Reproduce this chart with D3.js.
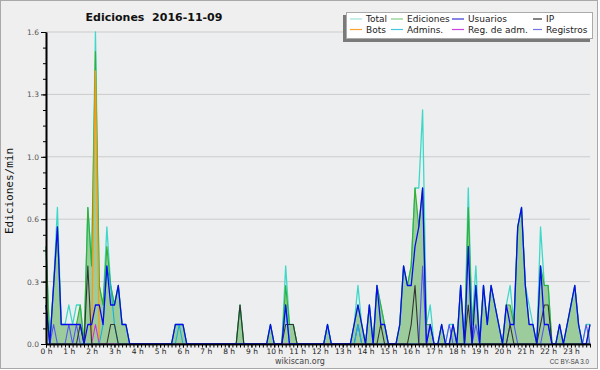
<!DOCTYPE html>
<html>
<head>
<meta charset="utf-8">
<script src="https://cdn.jsdelivr.net/npm/d3@7"></script>
<style>
html, body { margin: 0; padding: 0; background: #fff; }
svg { display: block; }
text { font-family: "DejaVu Sans", sans-serif; }
</style>
</head>
<body>
<svg id="chart" width="600" height="370"></svg>
<script>
// edits per minute, one value per 10 minute slot (144 slots, 6 per hour)
var total = [
  0.5,0,0.3,0.7,0.1,0.1,0.2,0.1,0.2,0.2,0,0.7,0.4,1.6,0.3,0.2,0.6,0.3,0.2,0.3,0.1,0.1,0,0,
  0,0,0,0,0,0,0,0,0,0,0.1,0.1,0.1,0,0,0,0,0,0,0,0,0,0,0,
  0,0,0,0.2,0,0,0,0,0,0,0,0.1,0,0,0,0.4,0.1,0.1,0,0,0,0,0,0,
  0,0,0.1,0,0,0,0,0,0,0.1,0.3,0.1,0,0.2,0,0.3,0.2,0.1,0,0,0,0.1,0.4,0.3,
  0.4,0.8,0.8,1.2,0.1,0.2,0,0,0.1,0,0.1,0.1,0,0.3,0,0.8,0.1,0.4,0,0.3,0.1,0.3,0.2,0.1,
  0,0.2,0.3,0.1,0.6,0.7,0.3,0.2,0.1,0,0.6,0.3,0.3,0,0,0.1,0,0.1,0.2,0.3,0.1,0,0.1,0.1
];
var edits = [
  0.5,0,0.3,0.6,0.1,0.1,0.1,0.1,0.1,0.2,0,0.7,0.4,1.5,0.3,0.2,0.5,0.3,0.2,0.3,0.1,0.1,0,0,
  0,0,0,0,0,0,0,0,0,0,0.1,0.1,0.1,0,0,0,0,0,0,0,0,0,0,0,
  0,0,0,0.2,0,0,0,0,0,0,0,0.1,0,0,0,0.3,0.1,0.1,0,0,0,0,0,0,
  0,0,0.1,0,0,0,0,0,0,0.1,0.2,0.1,0,0.2,0,0.3,0.2,0.1,0,0,0,0.1,0.4,0.3,
  0.4,0.8,0.6,0.8,0.1,0.1,0,0,0.1,0,0,0.1,0,0.3,0,0.7,0.1,0.3,0,0.3,0.1,0.3,0.2,0.1,
  0,0.2,0.2,0.1,0.6,0.7,0.3,0.1,0.1,0,0.4,0.3,0.3,0,0,0.1,0,0.1,0.2,0.3,0.1,0,0,0.1
];
var users = [
  0.2,0,0.3,0.6,0.1,0.1,0.1,0.1,0.1,0.1,0,0.1,0.1,0.2,0.2,0.1,0.4,0.2,0.2,0.3,0.1,0.1,0,0,
  0,0,0,0,0,0,0,0,0,0,0.1,0.1,0.1,0,0,0,0,0,0,0,0,0,0,0,
  0,0,0,0,0,0,0,0,0,0,0,0.1,0,0,0,0.2,0,0,0,0,0,0,0,0,
  0,0,0.1,0,0,0,0,0,0,0.1,0.2,0.1,0,0.2,0,0.3,0.1,0.1,0,0,0,0.1,0.4,0.3,
  0.3,0.5,0.6,0.8,0,0.1,0,0,0.1,0,0,0.1,0,0.3,0,0.5,0,0.3,0,0.3,0.1,0.3,0.2,0.1,
  0,0.2,0.1,0.1,0.6,0.7,0.3,0.1,0.1,0,0.4,0.1,0.1,0,0,0.1,0,0.1,0.2,0.3,0.1,0,0,0.1
];
var ip = [
  0.2,0,0,0,0,0,0,0,0,0.1,0,0.4,0,0,0,0,0,0.1,0.1,0,0,0,0,0,
  0,0,0,0,0,0,0,0,0,0,0,0,0,0,0,0,0,0,0,0,0,0,0,0,
  0,0,0,0.2,0,0,0,0,0,0,0,0,0,0,0,0.1,0.1,0.1,0,0,0,0,0,0,
  0,0,0,0,0,0,0,0,0,0,0,0,0,0,0,0,0.1,0,0,0,0,0,0,0,
  0.1,0.3,0,0,0,0,0,0,0,0,0,0,0,0,0,0.2,0,0,0,0,0,0,0,0,
  0,0,0.1,0,0,0,0,0,0,0,0.1,0.2,0.2,0,0,0,0,0,0,0,0,0,0,0
];
var bots = [
  0,0,0,0,0,0,0,0,0,0,0,0,0,1.4,0,0,0,0,0,0,0,0,0,0,
  0,0,0,0,0,0,0,0,0,0,0,0,0,0,0,0,0,0,0,0,0,0,0,0,
  0,0,0,0,0,0,0,0,0,0,0,0,0,0,0,0,0,0,0,0,0,0,0,0,
  0,0,0,0,0,0,0,0,0,0,0,0,0,0,0,0,0,0,0,0,0,0,0,0,
  0,0,0,0,0,0,0,0,0,0,0,0,0,0,0,0,0,0,0,0,0,0,0,0,
  0,0,0,0,0,0,0,0,0,0,0,0,0,0,0,0,0,0,0,0,0,0,0,0
];
var admins = [
  0,0,0,0,0,0,0,0,0,0,0,0,0,0,0,0.1,0.4,0.3,0.1,0,0,0,0,0,
  0,0,0,0,0,0,0,0,0,0,0,0.1,0,0,0,0,0,0,0,0,0,0,0,0,
  0,0,0,0,0,0,0,0,0,0,0,0,0,0,0,0.2,0,0,0,0,0,0,0,0,
  0,0,0.1,0,0,0,0,0,0,0,0.1,0,0,0,0,0,0,0,0,0,0,0,0,0,
  0,0,0,0,0,0,0,0,0,0,0,0,0,0,0,0,0,0,0,0,0,0,0,0,
  0,0,0,0,0,0,0,0,0,0,0,0,0,0,0,0,0,0,0,0,0,0,0,0
];
var regAdm = [
  0,0,0,0,0,0,0,0,0,0,0,0,0,0.1,0,0,0,0,0,0,0,0,0,0,
  0,0,0,0,0,0,0,0,0,0,0,0,0,0,0,0,0,0,0,0,0,0,0,0,
  0,0,0,0,0,0,0,0,0,0,0,0,0,0,0,0,0,0,0,0,0,0,0,0,
  0,0,0,0,0,0,0,0,0,0,0,0,0,0,0,0,0,0,0,0,0,0,0,0,
  0,0,0,0,0,0,0,0,0,0,0,0,0,0,0,0,0,0,0,0,0,0,0,0,
  0,0,0,0,0,0,0,0,0,0,0,0,0,0,0,0,0,0,0,0,0,0,0,0
];
var registros = [
  0,0,0.1,0,0,0,0.1,0,0.1,0,0,0,0,0,0,0,0,0,0,0,0,0,0,0,
  0,0,0,0,0,0,0,0,0,0,0,0,0,0,0,0,0,0,0,0,0,0,0,0,
  0,0,0,0,0,0,0,0,0,0,0,0,0,0,0,0,0,0,0,0,0,0,0,0,
  0,0,0,0,0,0,0,0,0,0,0.1,0,0,0,0,0,0,0,0,0,0,0,0,0,
  0,0,0,0.4,0,0.1,0,0,0,0,0.1,0,0,0,0,0,0,0.1,0,0,0,0,0,0,
  0,0,0.1,0.1,0,0,0,0,0,0,0,0.1,0.1,0,0,0,0,0,0,0,0,0,0.1,0
];

var yMajor = [0, 0.32, 0.64, 0.96, 1.28, 1.6];
var hourLabels = d3.range(0, 24).map(function (h) { return h + " h"; });

var legendItems = [
  { name: "Total", color: "#9fe3dc" },
  { name: "Ediciones", color: "#86cc86" },
  { name: "Usuarios", color: "#3434d6" },
  { name: "IP", color: "#333333" },
  { name: "Bots", color: "#ffa030" },
  { name: "Admins.", color: "#44c6dc" },
  { name: "Reg. de adm.", color: "#cc44dd" },
  { name: "Registros", color: "#7676e0" }
];

//-----------------------------------------------------------------------

var svg = d3.select("#chart");

var plotLeft = 46, plotRight = 590, plotTop = 32, plotBottom = 344;

var x = d3.scaleLinear().domain([0, 143]).range([plotLeft, plotRight]);
var y = d3.scaleLinear().domain([0, 1.6]).range([plotBottom, plotTop]);

// frame
svg.append("rect")
  .attr("x", 0.5).attr("y", 0.5)
  .attr("width", 597).attr("height", 368)
  .attr("fill", "#efefef")
  .attr("stroke", "#a9a9a9");

svg.append("rect")
  .attr("x", plotLeft).attr("y", plotTop)
  .attr("width", plotRight - plotLeft).attr("height", plotBottom - plotTop)
  .attr("fill", "#edeef0");

// grid lines
svg.append("g").selectAll("line")
  .data(yMajor.slice(1))
  .enter().append("line")
  .attr("x1", plotLeft).attr("x2", plotRight)
  .attr("y1", function (d) { return y(d); })
  .attr("y2", function (d) { return y(d); })
  .attr("stroke", "#cbcbcb")
  .attr("stroke-width", 1);

// ediciones area
var idx = d3.range(0, 144);

var area = d3.area()
  .x(function (i) { return x(i); })
  .y0(y(0))
  .y1(function (i) { return y(edits[i]); });

svg.append("path")
  .datum(idx)
  .attr("d", area)
  .attr("fill", "#9ccc9c");

function drawLine(values, color, width)
{
  var line = d3.line()
    .x(function (i) { return x(i); })
    .y(function (i) { return y(values[i]); });

  svg.append("path")
    .datum(idx)
    .attr("d", line)
    .attr("fill", "none")
    .attr("stroke", color)
    .attr("stroke-width", width)
    .attr("stroke-linejoin", "round");
}

drawLine(total, "#3ed8c8", 1.3);
drawLine(edits, "#35b035", 1.2);
drawLine(bots, "#ff9a10", 1.3);
drawLine(regAdm, "#cc33dd", 1.1);
drawLine(registros, "#5656f2", 1.1);
drawLine(admins, "#12b0e0", 1.1);
drawLine(ip, "#333333", 1.1);
drawLine(users, "#0a0af0", 1.3);

//-----------------------------------------------------------------------
// axes

var yAxis = d3.axisLeft(y)
  .tickValues(yMajor)
  .tickFormat(d3.format(".1f"))
  .tickSize(5)
  .tickSizeOuter(0)
  .tickPadding(2);

var yMinor = d3.axisLeft(y)
  .tickValues(d3.range(0, 21).map(function (k) { return k * 0.08; }))
  .tickFormat("")
  .tickSize(3)
  .tickSizeOuter(0);

var gy2 = svg.append("g").attr("transform", "translate(" + plotLeft + ",0)").call(yMinor);
var gy = svg.append("g").attr("transform", "translate(" + plotLeft + ",0)").call(yAxis);

var xMinor = d3.axisBottom(x)
  .tickValues(idx)
  .tickFormat("")
  .tickSize(3.5)
  .tickSizeOuter(0);

var xAxis = d3.axisBottom(x)
  .tickValues(d3.range(0, 144, 6))
  .tickFormat(function (d) { return hourLabels[d / 6]; })
  .tickSize(3.5)
  .tickSizeOuter(0)
  .tickPadding(1);

var gx2 = svg.append("g").attr("transform", "translate(0," + plotBottom + ")").call(xMinor);
var gx = svg.append("g").attr("transform", "translate(0," + plotBottom + ")").call(xAxis);

[gy, gy2, gx, gx2].forEach(function (g) {
  g.select(".domain").attr("stroke", "#000").attr("stroke-width", 1.6);
  g.selectAll(".tick line").attr("stroke", "#000").attr("stroke-width", 1);
});

gy.selectAll(".tick text")
  .attr("font-family", "DejaVu Sans")
  .attr("font-size", 7.5)
  .attr("fill", "#555");

gx.selectAll(".tick text")
  .attr("font-family", "DejaVu Sans")
  .attr("font-size", 7.5)
  .attr("fill", "#222");

// y axis title
svg.append("text")
  .attr("transform", "translate(13,191) rotate(-90)")
  .attr("text-anchor", "middle")
  .style("font-family", "'DejaVu Sans Mono', monospace")
  .attr("font-size", 11)
  .attr("fill", "#111")
  .text("Ediciones/min");

// title
svg.append("text")
  .attr("x", 154).attr("y", 21)
  .attr("text-anchor", "middle")
  .attr("font-size", 11)
  .attr("font-weight", "bold")
  .attr("fill", "#111")
  .style("white-space", "pre")
  .text("Ediciones  2016-11-09");

// footer
svg.append("text")
  .attr("x", 300).attr("y", 364)
  .attr("text-anchor", "middle")
  .attr("font-size", 8)
  .attr("fill", "#444")
  .text("wikiscan.org");

svg.append("text")
  .attr("x", 589).attr("y", 364)
  .attr("text-anchor", "end")
  .style("font-family", "'Liberation Sans', sans-serif")
  .attr("font-size", 6.3)
  .attr("fill", "#444")
  .text("CC BY-SA 3.0");

//-----------------------------------------------------------------------
// legend

svg.append("rect")
  .attr("x", 343).attr("y", 15)
  .attr("width", 247).attr("height", 27)
  .attr("fill", "#7a7a7a");

svg.append("rect")
  .attr("x", 346.5).attr("y", 12.5)
  .attr("width", 246).attr("height", 26)
  .attr("fill", "#fff")
  .attr("stroke", "#aaa");

var colX = [350, 391, 452, 533];
var colLen = [12, 12, 12, 9];
var rowY = [19, 29.5];

var leg = svg.append("g").selectAll("g")
  .data(legendItems)
  .enter().append("g")
  .attr("transform", function (d, i) {
    return "translate(" + colX[i % 4] + "," + rowY[Math.floor(i / 4)] + ")";
  });

leg.append("line")
  .attr("x1", 0)
  .attr("x2", function (d, i) { return colLen[i % 4]; })
  .attr("y1", 0).attr("y2", 0)
  .attr("stroke", function (d) { return d.color; })
  .attr("stroke-width", 1.2);

leg.append("text")
  .attr("x", function (d, i) { return colLen[i % 4] + 4; })
  .attr("y", 3.3)
  .attr("font-size", 9)
  .attr("fill", "#222")
  .text(function (d) { return d.name; });
</script>
</body>
</html>
